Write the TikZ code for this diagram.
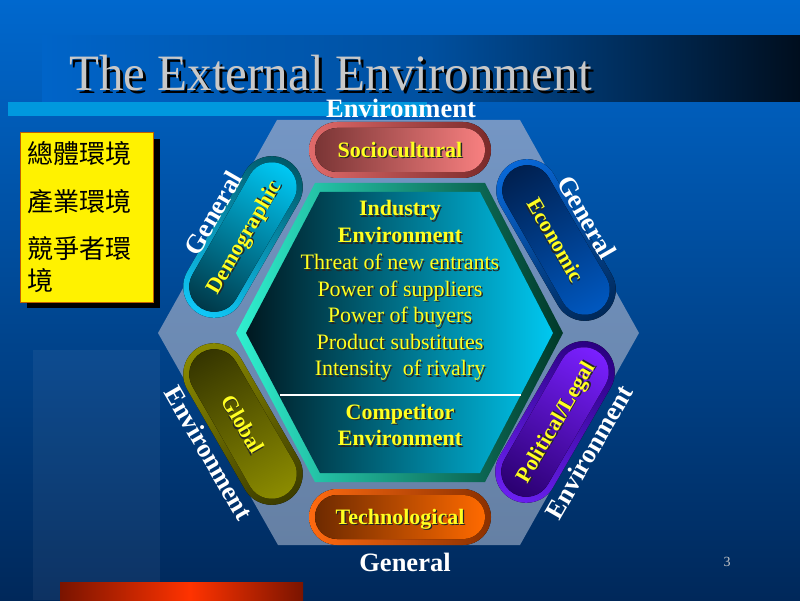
\documentclass[tikz,border=0pt]{standalone}
\usepackage{fontspec}
\setmainfont{Liberation Serif}
\newfontfamily\cjk{Noto Sans CJK TC}
\definecolor{bgtop}{HTML}{0068CE}
\definecolor{bgbot}{HTML}{00285A}
\definecolor{bandA}{HTML}{0064C8}
\definecolor{bandB}{HTML}{0050A0}
\definecolor{bandC}{HTML}{000E1E}
\definecolor{lbar}{HTML}{0098DE}
\definecolor{titlegray}{HTML}{C8C8C8}
\definecolor{hextop}{HTML}{7496C4}
\definecolor{hexbot}{HTML}{6580A4}
\definecolor{brdL}{HTML}{30F0D0}
\definecolor{brdR}{HTML}{003828}
\definecolor{inL}{HTML}{001820}
\definecolor{inR}{HTML}{00C8F0}
\definecolor{scRL}{HTML}{E06A6A}\definecolor{scRR}{HTML}{7A2A2A}
\definecolor{scIL}{HTML}{7A3535}\definecolor{scIR}{HTML}{F88080}
\definecolor{teRL}{HTML}{FF6A10}\definecolor{teRR}{HTML}{8A3000}
\definecolor{teIL}{HTML}{6E2A00}\definecolor{teIR}{HTML}{FF6A00}
\definecolor{deRL}{HTML}{10C8F8}\definecolor{deRR}{HTML}{005868}
\definecolor{deIL}{HTML}{003848}\definecolor{deIR}{HTML}{00C8F4}
\definecolor{ecRL}{HTML}{0868D8}\definecolor{ecRR}{HTML}{002858}
\definecolor{ecIL}{HTML}{002050}\definecolor{ecIR}{HTML}{0058C0}
\definecolor{glRL}{HTML}{8A8A00}\definecolor{glRR}{HTML}{3C3C00}
\definecolor{glIL}{HTML}{353500}\definecolor{glIR}{HTML}{8C8C00}
\definecolor{poRL}{HTML}{6A20F0}\definecolor{poRR}{HTML}{2A0080}
\definecolor{poIL}{HTML}{2A0070}\definecolor{poIR}{HTML}{7A20FF}
\definecolor{barD}{HTML}{7A1400}
\definecolor{barB}{HTML}{FF3300}
\definecolor{boxbrd}{HTML}{C06000}
\definecolor{ytx}{HTML}{FFFF20}

\def\pa{57.5}\def\pr{31}
\newcommand\capsule[1]{% #1 = radius shrink
  (-\pa,-\pr+#1) -- (\pa,-\pr+#1) arc[start angle=-90,end angle=90,radius=\pr-#1]
  -- (-\pa,\pr-#1) arc[start angle=90,end angle=270,radius=\pr-#1] -- cycle}
\newcommand\pill[9]{%
  \begin{scope}[transform canvas={shift={(#2pt,#3pt)},rotate=#4}]
    \fill[left color=#5,right color=#6] \capsule{0};
    \fill[left color=#7,right color=#8] \capsule{6};
    \node[pilltxt,text=black!85] at (1.3,-8.8) {#9};
    \node[pilltxt] (#1) at (0,-7.5) {#9};
  \end{scope}}
\newcommand\ytext[5]{%
  \node[ctxt,font=#5,text=black!85] at (#2+1.4,#3-1.4) {#4};
  \node[ctxt,font=#5] (#1) at (#2,#3) {#4};}

\begin{document}
\begin{tikzpicture}[x=1pt,y=1pt,
  pilltxt/.style={anchor=base,inner sep=0pt,text=ytx,font=\bfseries\fontsize{22}{26}\selectfont},
  ctxt/.style={anchor=base,inner sep=0pt,text=ytx},
  wlab/.style={inner sep=0pt,text=white,font=\bfseries\fontsize{26.5}{30}\selectfont},
  cjkline/.style={anchor=west,inner sep=0pt,text=black,font=\cjk\fontsize{26}{30}\selectfont}]
\useasboundingbox (0,0) rectangle (800,600);
% background
\shade[top color=bgtop,bottom color=bgbot] (0,0) rectangle (800,600);
\fill[white,fill opacity=0.05] (33,0) rectangle (160,250);
% title band
\shade[left color=bandA,right color=bandB] (42,498) rectangle (430,564);
\shade[left color=bandB,right color=bandC] (430,498) rectangle (800,564);
\fill[lbar] (8,484) rectangle (427,498);
\node[anchor=base,inner sep=0pt,xscale=0.96,text=black,font=\fontsize{51}{56}\selectfont] at (333.5,506) {The External Environment};
\node[anchor=base,inner sep=0pt,xscale=0.96,text=titlegray,font=\fontsize{51}{56}\selectfont] (title) at (330.5,509) {The External Environment};
% outer hexagon
\shade[top color=hextop,bottom color=hexbot] (277,480) -- (520,480) -- (639,267) -- (520,55) -- (278,55) -- (158,267) -- cycle;
% inner hexagon
\shade[left color=brdL,right color=brdR] (315,417) -- (485,417) -- (563,267) -- (485,118) -- (315,118) -- (236,267) -- cycle;
\shade[left color=inL,right color=inR] (320,408) -- (480,408) -- (553,267) -- (480,127) -- (320,127) -- (246,267) -- cycle;
\draw[white,line width=2.5pt] (280,205) -- (521,205);
% centre text
\ytext{ind}{400}{384}{Industry}{\bfseries\fontsize{22}{26}\selectfont}
\ytext{indenv}{400}{357}{Environment}{\bfseries\fontsize{22}{26}\selectfont}
\ytext{l1}{400}{330}{Threat of new entrants}{\fontsize{22}{26}\selectfont}
\ytext{l2}{400}{303.5}{Power of suppliers}{\fontsize{22}{26}\selectfont}
\ytext{l3}{400}{277}{Power of buyers}{\fontsize{22}{26}\selectfont}
\ytext{l4}{400}{250.5}{Product substitutes}{\fontsize{22}{26}\selectfont}
\ytext{l5}{400}{224}{Intensity\ \ of rivalry}{\fontsize{22}{26}\selectfont}
\ytext{comp}{400}{181}{Competitor}{\bfseries\fontsize{22}{26}\selectfont}
\ytext{compenv}{400}{154}{Environment}{\bfseries\fontsize{22}{26}\selectfont}
% pills
\def\pa{63}\def\pr{28}
\pill{socio}{400}{450}{0}{scRL}{scRR}{scIL}{scIR}{Sociocultural}
\pill{techno}{400}{83}{0}{teRL}{teRR}{teIL}{teIR}{Technological}
\def\pa{57.5}\def\pr{31}
\pill{demo}{243}{363}{60}{deRL}{deRR}{deIL}{deIR}{Demographic}
\pill{econ}{556}{360}{-60}{ecRL}{ecRR}{ecIL}{ecIR}{Economic}
\pill{glob}{243}{176}{-60}{glRL}{glRR}{glIL}{glIR}{Global}
\pill{polit}{555}{178}{60}{poRL}{poRR}{poIL}{poIR}{Political/Legal}
% outside labels
\node[wlab] (envtop) at (401,491.5) {Environment};
\node[wlab,rotate=60] (genleft) at (213,387) {General};
\node[wlab,rotate=-60] (genright) at (587,383) {General};
\node[wlab,rotate=-60] (envleft) at (209,147) {Environment};
\node[wlab,rotate=60] (envright) at (589,148) {Environment};
\node[wlab] (genbot) at (405,38) {General};
% yellow box
\fill[black] (27,292) rectangle (160,461);
\fill[yellow,draw=boxbrd,line width=0.8pt] (20,298) rectangle (153,468);
\node[cjkline] (c1) at (27,446) {總體環境};
\node[cjkline] (c2) at (27,398) {產業環境};
\node[cjkline] (c3) at (27,351) {競爭者環};
\node[cjkline] (c4) at (27,319) {境};
% bottom bar
\shade[left color=barD,right color=barB] (60,0) rectangle (190,18);
\shade[left color=barB,right color=barD] (190,0) rectangle (303,18);
% page number
\node[inner sep=0pt,text=titlegray,font=\fontsize{14}{16}\selectfont] (pnum) at (727,38) {3};
\end{tikzpicture}
\end{document}
